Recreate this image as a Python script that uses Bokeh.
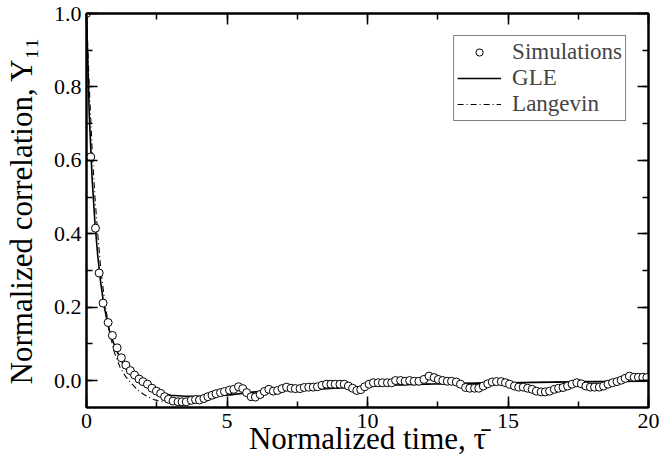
from bokeh.plotting import figure
from bokeh.models import (LinearAxis, SingleIntervalTicker, NumeralTickFormatter,
                          CustomJSTickFormatter, Legend, LegendItem, Range1d)
from bokeh.embed import file_html
from bokeh.resources import INLINE

# ---- data ----
sim_t = [0.00, 0.15, 0.32, 0.45, 0.59, 0.77, 0.92, 1.09, 1.24, 1.40, 1.56, 1.71, 1.87,
         2.01, 2.17, 2.33, 2.49, 2.64, 2.78, 2.92, 3.08, 3.26, 3.40, 3.55, 3.73, 3.88,
         4.02, 4.18, 4.32, 4.47, 4.61, 4.77, 4.91, 5.09, 5.24, 5.41, 5.56, 5.70, 5.86,
         6.01, 6.18, 6.33, 6.49, 6.65, 6.80, 6.96, 7.12, 7.28, 7.43, 7.60, 7.75, 7.91,
         8.07, 8.22, 8.38, 8.54, 8.70, 8.85, 9.02, 9.17, 9.32, 9.47, 9.62, 9.76, 9.90,
         10.06, 10.21, 10.38, 10.53, 10.71, 10.86, 11.00, 11.18, 11.34, 11.50, 11.66,
         11.83, 12.01, 12.19, 12.37, 12.52, 12.68, 12.84, 12.99, 13.16, 13.31, 13.49,
         13.64, 13.81, 13.96, 14.12, 14.28, 14.44, 14.59, 14.76, 14.91, 15.06, 15.23,
         15.38, 15.54, 15.70, 15.86, 16.01, 16.18, 16.33, 16.48, 16.65, 16.80, 16.96,
         17.12, 17.28, 17.45, 17.61, 17.77, 17.93, 18.08, 18.25, 18.40, 18.56, 18.72,
         18.88, 19.03, 19.17, 19.32, 19.49, 19.64, 19.80, 19.94]
sim_y = [1.000, 0.609, 0.415, 0.293, 0.211, 0.158, 0.123, 0.089, 0.062, 0.042, 0.027, 0.015, 0.004,
         -0.003, -0.010, -0.021, -0.029, -0.035, -0.044, -0.051, -0.056, -0.058, -0.058, -0.058, -0.054, -0.052,
         -0.053, -0.049, -0.044, -0.040, -0.036, -0.033, -0.030, -0.026, -0.024, -0.017, -0.022, -0.033, -0.044,
         -0.045, -0.038, -0.030, -0.024, -0.029, -0.027, -0.022, -0.018, -0.021, -0.022, -0.022, -0.019, -0.018,
         -0.018, -0.017, -0.013, -0.010, -0.010, -0.010, -0.010, -0.010, -0.015, -0.021, -0.027, -0.025, -0.017,
         -0.010, -0.006, -0.006, -0.006, -0.006, -0.006, 0.000, 0.000, -0.002, 0.000, -0.002,
         -0.002, 0.003, 0.012, 0.008, 0.003, 0.000, -0.002, -0.002, -0.004, -0.010, -0.019,
         -0.021, -0.021, -0.021, -0.015, -0.009, -0.004, -0.003, -0.003, -0.006, -0.010, -0.015,
         -0.018, -0.018, -0.021, -0.024, -0.029, -0.031, -0.031, -0.029, -0.024, -0.021, -0.019,
         -0.015, -0.010, -0.006, -0.009, -0.015, -0.018, -0.018, -0.018, -0.015, -0.010, -0.006,
         -0.003, 0.001, 0.006, 0.012, 0.009, 0.009, 0.009, 0.008]

gle_t = [0, 0.1, 0.2, 0.3, 0.4, 0.5, 0.6, 0.7, 0.8, 0.9, 1.0, 1.2, 1.4, 1.6, 1.8, 2.0,
         2.25, 2.5, 2.75, 3.0, 3.5, 4.0, 4.5, 5.0, 6.0, 7.0, 8.0, 9.0, 10.0, 11.0, 12.0,
         13.0, 14.0, 15.0, 16.0, 18.0, 20.0]
gle_y = [1.0, 0.72, 0.55, 0.43, 0.34, 0.27, 0.215, 0.175, 0.14, 0.115, 0.095, 0.060, 0.033,
         0.015, 0.002, -0.008, -0.019, -0.028, -0.035, -0.040, -0.043, -0.043, -0.042, -0.040,
         -0.031, -0.027, -0.024, -0.020, -0.016, -0.012, -0.010, -0.008, -0.007, -0.006,
         -0.005, -0.003, -0.002]

lan_t = [0, 0.1, 0.2, 0.3, 0.4, 0.5, 0.6, 0.7, 0.8, 0.9, 1.0, 1.2, 1.4, 1.6, 1.8, 2.0,
         2.2, 2.4, 2.6, 2.8, 3.0, 3.4, 3.8, 4.2, 4.6, 5.0, 6.0, 7.0, 8.0, 9.0, 10.0, 11.0,
         12.0, 13.0, 14.0, 15.0, 16.0, 18.0, 20.0]
lan_y = [1.0, 0.80, 0.63, 0.50, 0.40, 0.31, 0.245, 0.19, 0.14, 0.105, 0.075, 0.035, 0.010,
         -0.008, -0.024, -0.036, -0.045, -0.052, -0.056, -0.058, -0.059, -0.058, -0.054,
         -0.048, -0.044, -0.040, -0.031, -0.027, -0.024, -0.020, -0.016, -0.012, -0.010,
         -0.008, -0.007, -0.006, -0.005, -0.003, -0.002]

x_label = "Normalized time, \u03c4\u0304"
y_label = "Normalized correlation, Y\u2081\u2081"
legend_labels = ["Simulations", "GLE", "Langevin"]

FONT = "Liberation Serif"

p = figure(width=661, height=465, output_backend="svg", toolbar_location=None,
           x_range=Range1d(0, 20), y_range=Range1d(-0.0735, 1.0),
           min_border_left=85, min_border_right=13, min_border_top=13, min_border_bottom=58,
           background_fill_color="white", border_fill_color="white")
p.xgrid.visible = False
p.ygrid.visible = False
p.outline_line_color = "black"
p.outline_line_width = 2

def style_axis(ax, interval, minor, show_labels):
    ax.ticker = SingleIntervalTicker(interval=interval, num_minor_ticks=minor)
    ax.axis_line_color = "black"
    ax.axis_line_width = 2
    ax.major_tick_in = 11
    ax.major_tick_out = 0
    ax.minor_tick_in = 6
    ax.minor_tick_out = 0
    ax.major_tick_line_width = 1.5
    ax.minor_tick_line_width = 1.5
    ax.major_tick_line_color = "black"
    ax.minor_tick_line_color = "black"
    ax.major_label_text_font = FONT
    ax.major_label_text_font_style = "normal"
    ax.major_label_text_color = "black"
    ax.major_label_text_font_size = "22px"
    ax.axis_label_text_font = FONT
    ax.axis_label_text_font_style = "normal"
    ax.axis_label_text_color = "black"
    ax.axis_label_text_font_size = "31px"
    if not show_labels:
        ax.formatter = CustomJSTickFormatter(code="return ''")
        ax.major_label_standoff = 0

xa = p.xaxis[0]
ya = p.yaxis[0]
style_axis(xa, 5, 2, True)
style_axis(ya, 0.2, 2, True)
xa.major_label_standoff = 6
ya.major_label_standoff = 5
ya.formatter = NumeralTickFormatter(format="0.0")
xa.axis_label = x_label
xa.axis_label_standoff = -10
ya.axis_label = y_label
ya.axis_label_standoff = 12

top = LinearAxis()
style_axis(top, 5, 2, False)
p.add_layout(top, "above")
right = LinearAxis()
style_axis(right, 0.2, 2, False)
p.add_layout(right, "right")

r_gle = p.line(gle_t, gle_y, line_color="black", line_width=1.6)
r_lan = p.line(lan_t, lan_y, line_color="black", line_width=1.1, line_dash="6 3 1 3")
r_sim = p.scatter(sim_t, sim_y, marker="circle", size=8, fill_color="white",
                  line_color="black", line_width=1)

legend = Legend(items=[LegendItem(label=legend_labels[0], renderers=[r_sim]),
                       LegendItem(label=legend_labels[1], renderers=[r_gle]),
                       LegendItem(label=legend_labels[2], renderers=[r_lan])],
                location="top_right", margin=22, padding=3, spacing=0,
                glyph_width=44, glyph_height=18, label_height=18, label_standoff=11,
                label_text_font=FONT, label_text_font_size="23px",
                border_line_color="black", border_line_width=1.5,
                background_fill_alpha=1.0)
p.add_layout(legend, "center")

open("out.html", "w").write(file_html(p, INLINE))
